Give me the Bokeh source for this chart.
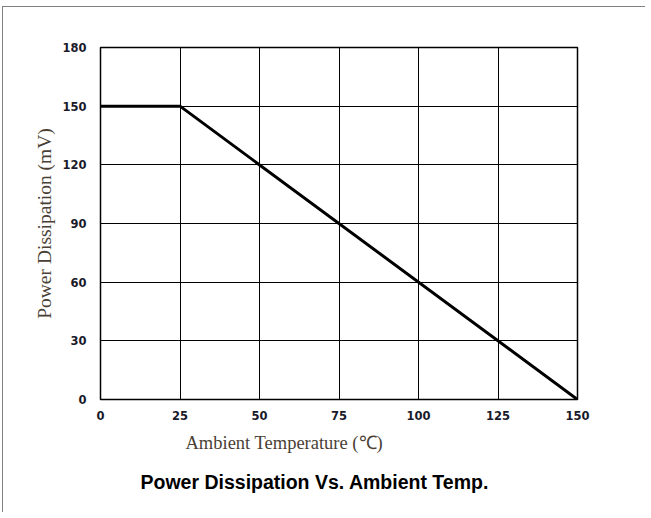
from bokeh.plotting import figure
from bokeh.models import Title, FixedTicker, Range1d
from bokeh.embed import file_html
from bokeh.resources import INLINE

temps = [0, 25, 150]
power = [150, 150, 0]
x_ticks = [0, 25, 50, 75, 100, 125, 150]
y_ticks = [0, 30, 60, 90, 120, 150, 180]

x_title = "Ambient Temperature (℃)"
y_title = "Power Dissipation (mV)"
chart_title = "Power Dissipation Vs. Ambient Temp."

W, H = 645, 512
p = figure(width=W, height=H, output_backend="svg", toolbar_location=None,
           x_range=Range1d(0, 150), y_range=Range1d(0, 180),
           min_border_left=100, min_border_right=W - 577, min_border_top=47,
           min_border_bottom=H - 399)
p.frame_width = 477
p.frame_height = 352

p.outline_line_color = "black"
p.outline_line_width = 1.5
p.background_fill_color = "white"
p.border_fill_color = None
p.styles = {"background": "linear-gradient(#808080,#808080) 2px 6px / 100% 1px no-repeat, "
                          "linear-gradient(#808080,#808080) 2px 6px / 1px 100% no-repeat, white"}

for ax, ticks in ((p.xaxis, x_ticks), (p.yaxis, y_ticks)):
    ax.ticker = FixedTicker(ticks=ticks)
    ax.major_tick_line_color = None
    ax.minor_tick_line_color = None
    ax.axis_line_color = None
    ax.major_label_text_font = "DejaVu Sans"
    ax.major_label_text_font_style = "bold"
    ax.major_label_text_font_size = "11.5px"
    ax.major_label_text_color = "#1a1a2a"
p.xaxis.major_label_standoff = 5
p.yaxis.major_label_standoff = 8

lab_color = "#4a3f35"
p.yaxis.axis_label = y_title
p.yaxis.axis_label_text_font = "Liberation Serif"
p.yaxis.axis_label_text_font_style = "normal"
p.yaxis.axis_label_text_font_size = "19.5px"
p.yaxis.axis_label_text_color = lab_color
p.yaxis.axis_label_standoff = 4

p.xgrid.ticker = FixedTicker(ticks=x_ticks)
p.ygrid.ticker = FixedTicker(ticks=y_ticks)
for g in (p.xgrid, p.ygrid):
    g.grid_line_color = "black"
    g.grid_line_width = 1
    g.grid_line_alpha = 1

p.line(temps, power, line_color="black", line_width=3)

p.add_layout(Title(text=x_title, align="left", offset=85, standoff=17,
                   text_font="Liberation Serif", text_font_style="normal",
                   text_font_size="18.5px", text_color=lab_color), "below")
p.add_layout(Title(text=chart_title, align="left", offset=40, standoff=14,
                   text_font="Liberation Sans", text_font_style="bold",
                   text_font_size="19.5px", text_color="black"), "below")

open("out.html", "w").write(file_html(p, INLINE))
